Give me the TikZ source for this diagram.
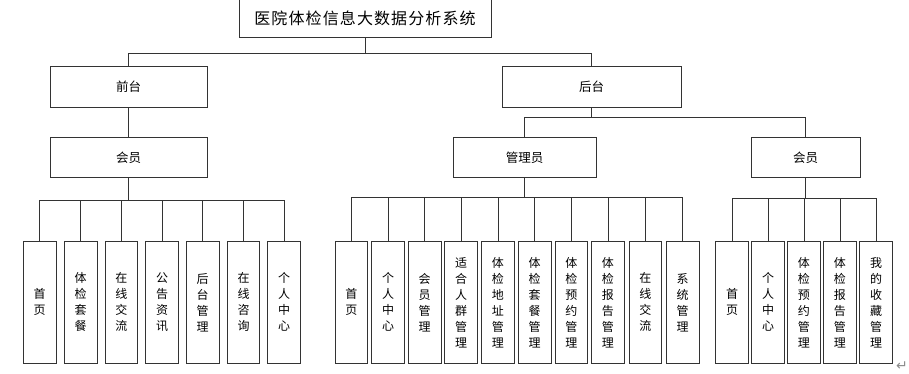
\documentclass[tikz,border=0pt]{standalone}
\usepackage{fontspec}
\usepackage{tikz}
\usetikzlibrary{positioning}
\newfontfamily\cjk{Noto Sans CJK SC}
\newfontfamily\cjktitle[LetterSpace=7]{Noto Sans CJK SC}
\newfontfamily\symfont{DejaVu Sans}
\newcommand{\leaffont}{\cjk\fontsize{12}{16}\selectfont}
\newcommand{\midfont}{\cjk\fontsize{12.5}{14}\selectfont}

\begin{document}
\begin{tikzpicture}[x=1pt, y=-1pt, line width=0.8pt, draw=black!80,
  titlebox/.style={draw, minimum width=252pt, minimum height=38pt, inner sep=0pt,
    font=\cjktitle\fontsize{16}{18}\selectfont},
  midbox/.style={draw, minimum height=40.5pt, inner sep=0pt, font=\midfont},
  leaf/.style={draw, minimum width=32.7pt, minimum height=121.3pt, inner sep=0pt,
    align=center, font=\leaffont}]
\useasboundingbox (0,0) rectangle (909,373);
\node[titlebox] (top) at (365,18) {医院体检信息大数据分析系统};
\node[midbox, minimum width=157pt] (qt) at (128.5,87) {前台};
\node[midbox, minimum width=179pt] (ht) at (591.5,87) {后台};
\node[midbox, minimum width=157pt] (qhy) at (128.5,157.5) {会员};
\node[midbox, minimum width=143pt] (gly) at (524.5,157.5) {管理员};
\node[midbox, minimum width=109pt] (hhy) at (805.5,157.5) {会员};
% front leaves
\node[leaf] (q1) at (39.7,302.3) {首\\页};
\node[leaf] (q2) at (80.6,302.3) {体\\检\\套\\餐};
\node[leaf] (q3) at (121.3,302.3) {在\\线\\交\\流};
\node[leaf] (q4) at (162,302.3) {公\\告\\资\\讯};
\node[leaf] (q5) at (202.7,302.3) {后\\台\\管\\理};
\node[leaf] (q6) at (243.5,302.3) {在\\线\\咨\\询};
\node[leaf] (q7) at (284,302.3) {个\\人\\中\\心};
% admin leaves
\node[leaf] (g1) at (351.4,302.3) {首\\页};
\node[leaf] (g2) at (388,302.3) {个\\人\\中\\心};
\node[leaf] (g3) at (424.7,302.3) {会\\员\\管\\理};
\node[leaf] (g4) at (461.2,302.3) {适\\合\\人\\群\\管\\理};
\node[leaf] (g5) at (497.9,302.3) {体\\检\\地\\址\\管\\理};
\node[leaf] (g6) at (534.7,302.3) {体\\检\\套\\餐\\管\\理};
\node[leaf] (g7) at (571.4,302.3) {体\\检\\预\\约\\管\\理};
\node[leaf] (g8) at (607.9,302.3) {体\\检\\报\\告\\管\\理};
\node[leaf] (g9) at (645.4,302.3) {在\\线\\交\\流};
\node[leaf] (g10) at (682.7,302.3) {系\\统\\管\\理};
% member leaves
\node[leaf] (h1) at (732,302.3) {首\\页};
\node[leaf] (h2) at (768,302.3) {个\\人\\中\\心};
\node[leaf] (h3) at (803.9,302.3) {体\\检\\预\\约\\管\\理};
\node[leaf] (h4) at (839.9,302.3) {体\\检\\报\\告\\管\\理};
\node[leaf] (h5) at (876,302.3) {我\\的\\收\\藏\\管\\理};
\node[text=black!45, font=\symfont\fontsize{14}{14}\selectfont, inner sep=0pt] (ret) at (902,366) {↵};
% connectors
\coordinate (tb) at (365,53);
\coordinate (hb) at (591.5,117);
\coordinate (qb) at (128.5,200.7);
\coordinate (gb) at (524.5,197.7);
\coordinate (mb) at (805.5,198.7);
\draw (top.south) -- (tb);
\draw (qt.north) |- (tb);
\draw (ht.north) |- (tb);
\draw (qt.south) -- (qhy.north);
\draw (ht.south) -- (hb);
\draw (gly.north) |- (hb);
\draw (hhy.north) |- (hb);
\draw (qhy.south) -- (qb);
\draw (q1.north) |- (qb);
\draw (q2.north) |- (qb);
\draw (q3.north) |- (qb);
\draw (q4.north) |- (qb);
\draw (q5.north) |- (qb);
\draw (q6.north) |- (qb);
\draw (q7.north) |- (qb);
\draw (gly.south) -- (gb);
\draw (g1.north) |- (gb);
\draw (g2.north) |- (gb);
\draw (g3.north) |- (gb);
\draw (g4.north) |- (gb);
\draw (g5.north) |- (gb);
\draw (g6.north) |- (gb);
\draw (g7.north) |- (gb);
\draw (g8.north) |- (gb);
\draw (g9.north) |- (gb);
\draw (g10.north) |- (gb);
\draw (hhy.south) -- (mb);
\draw (h1.north) |- (mb);
\draw (h2.north) |- (mb);
\draw (h3.north) |- (mb);
\draw (h4.north) |- (mb);
\draw (h5.north) |- (mb);
\end{tikzpicture}
\end{document}
